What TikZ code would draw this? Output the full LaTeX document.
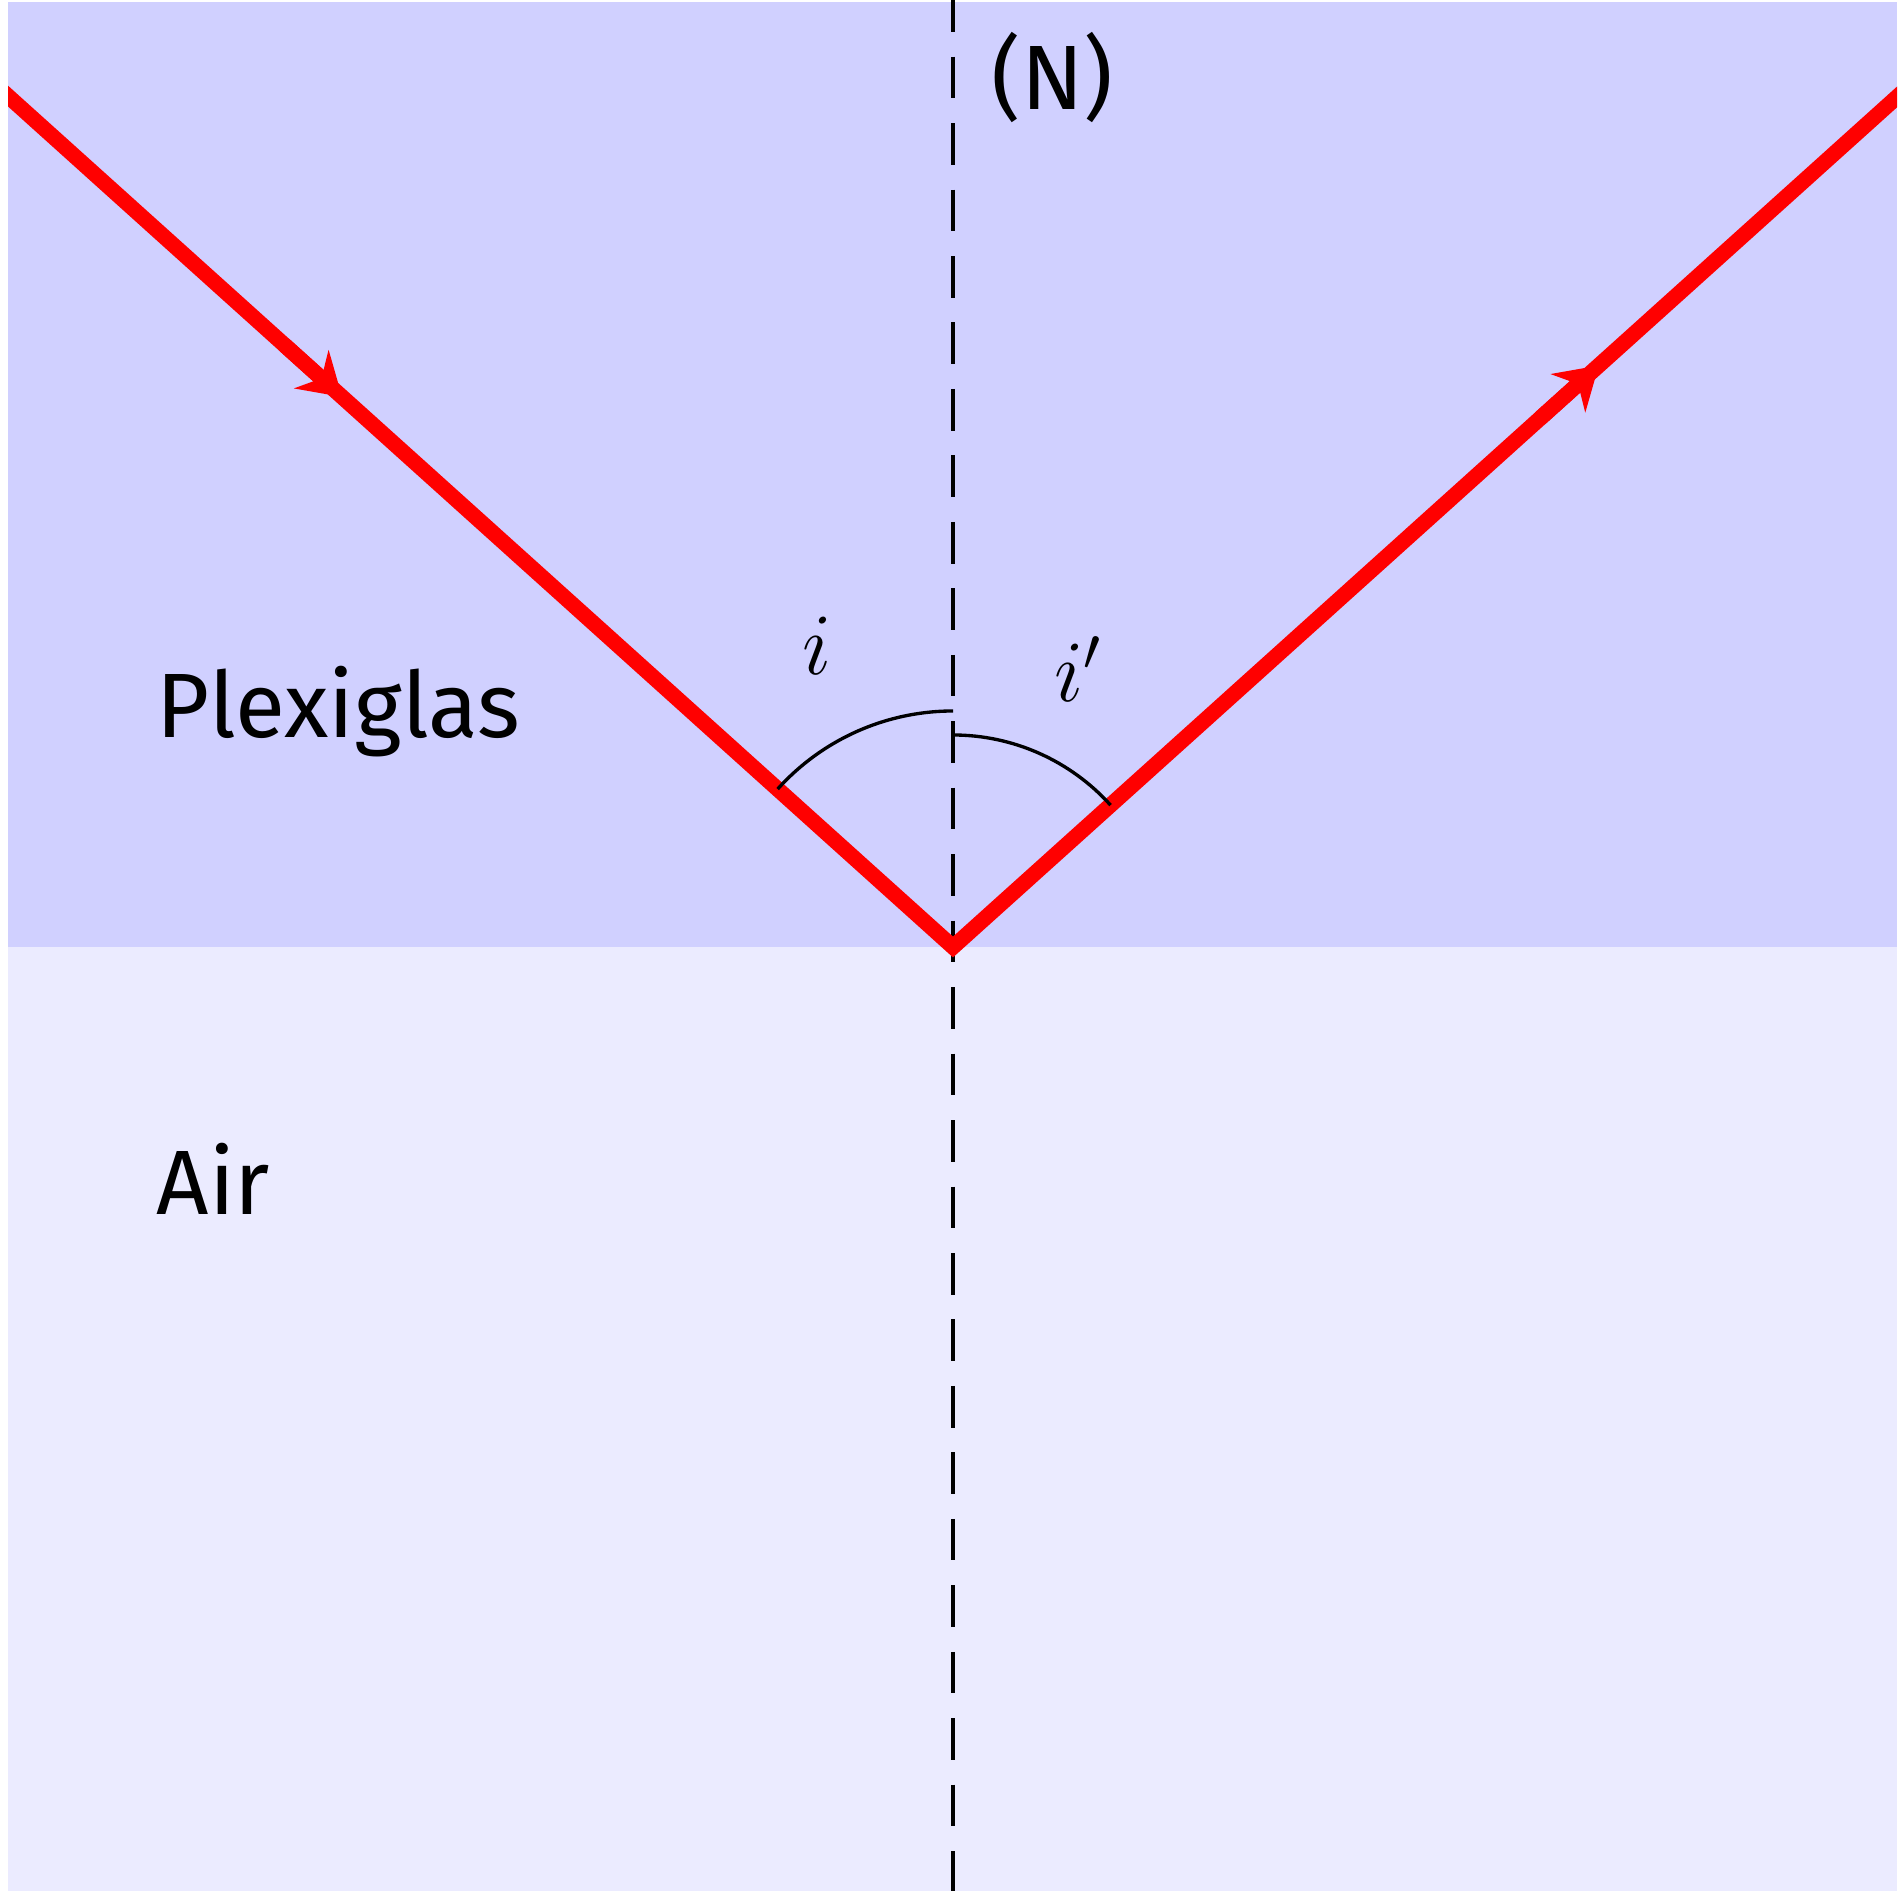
\documentclass[tikz,border=0pt]{standalone}
\usepackage{fontspec}
\setmainfont{Fira Sans}
\usetikzlibrary{arrows.meta}
\definecolor{plexi}{RGB}{208,208,255}
\definecolor{airc}{RGB}{235,235,255}
\begin{document}
\begin{tikzpicture}[x=0.01cm,y=0.01cm,
  ray/.style={red, line width=4.4pt, line join=miter},
  raytip/.style={red, line width=4.4pt, -{Stealth[length=11.7pt,width=14.5pt,inset=3.8pt]}},
  anglearc/.style={black, line width=0.95pt},
  normalline/.style={black, line width=1.1pt, dash pattern=on 11.84pt off 7.06pt, dash phase=2.79pt},
  lbl/.style={font=\fontsize{26}{31}\selectfont, inner sep=0pt}]
\useasboundingbox[fill=white] (0,0) rectangle (1900,1900);
\fill[plexi] (8,953) rectangle (1897,1898);
\fill[airc] (8,9) rectangle (1897,953);
\coordinate (O) at (953,953);
\coordinate (Ntop) at (953,1900);
\coordinate (Nbot) at (953,9);
\path (O) ++(138:1400) coordinate (A);
\path (O) ++(42:1400) coordinate (B);
\path (O) ++(138:822) coordinate (tipL);
\path (O) ++(138:900) coordinate (tailL);
\path (O) ++(42:869) coordinate (tipR);
\path (O) ++(42:790) coordinate (tailR);
\draw[normalline] (Ntop) -- (Nbot);
\begin{scope}
\clip (8,9) rectangle (1897,1898);
\draw[ray] (A) -- (O) -- (B);
\end{scope}
\draw[raytip] (tailL) -- (tipL);
\draw[raytip] (tailR) -- (tipR);
\draw[anglearc] (O) ++(138:236) arc[start angle=138, end angle=90, radius=236];
\draw[anglearc] (O) ++(90:212) arc[start angle=90, end angle=42, radius=212];
\node[lbl, anchor=base] (li) at (817,1225) {$i$};
\node[lbl, anchor=base] (lip) at (1078,1198) {$i'$};
\node[lbl, anchor=base west] (plexi) at (156,1162) {Plexiglas};
\node[lbl, anchor=base west] (air) at (156,685) {Air};
\node[lbl, anchor=base west] (N) at (991,1790) {(N)};
\end{tikzpicture}
\end{document}
